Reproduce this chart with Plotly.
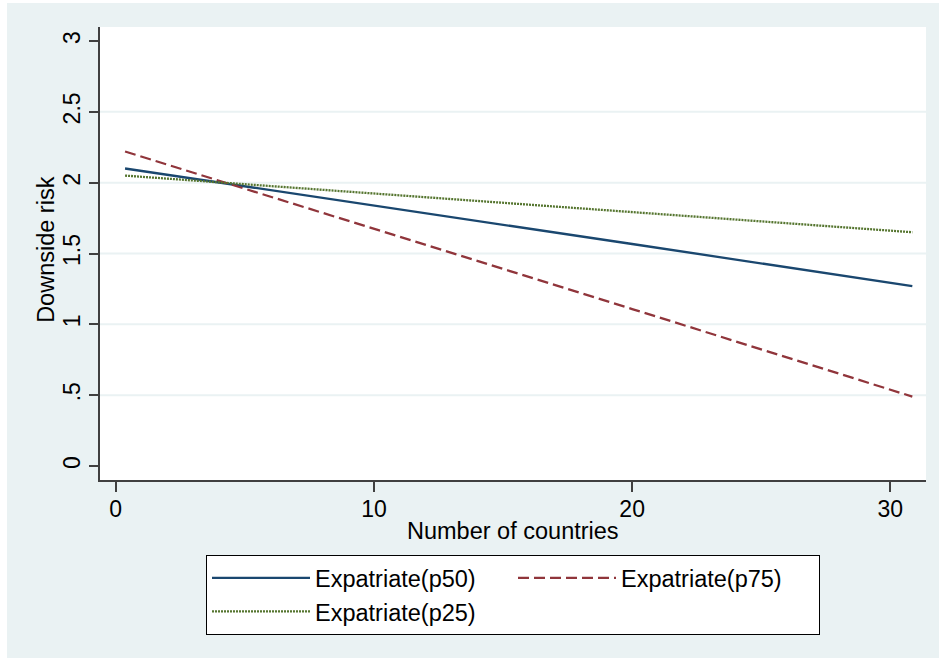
import plotly.graph_objects as go

# Data
x_countries = [0.36, 10, 20, 30.85]
p50_risk = [2.10, 1.84, 1.567, 1.27]
p75_risk = [2.22, 1.675, 1.108, 0.49]
p25_risk = [2.05, 1.924, 1.793, 1.65]

series_names = ["Expatriate(p50)", "Expatriate(p75)", "Expatriate(p25)"]
series_values = [p50_risk, p75_risk, p25_risk]
series_colors = ["#1A476F", "#90353B", "#55752F"]
series_dash = ["solid", "11px,5px", "2px,1px"]

y_tick_vals = [0, 0.5, 1, 1.5, 2, 2.5, 3]
y_tick_text = ["0", ".5", "1", "1.5", "2", "2.5", "3"]
x_tick_vals = [0, 10, 20, 30]
grid_vals = [0.5, 1, 1.5, 2, 2.5]

x_title = "Number of countries"
y_title = "Downside risk"

FONT = "Liberation Sans, Arial, sans-serif"
BG = "#EAF2F3"

fig = go.Figure()
for name, vals, col, dash in zip(series_names, series_values, series_colors, series_dash):
    fig.add_trace(go.Scatter(
        x=x_countries, y=vals, mode="lines", name=name,
        line=dict(color=col, width=2.3, dash=dash),
    ))

shapes = []
for g in grid_vals:
    shapes.append(dict(type="line", xref="paper", x0=0, x1=1, yref="y", y0=g, y1=g,
                       line=dict(color=BG, width=2), layer="below"))
# thin white strip of the original image border (left and top)
shapes.append(dict(type="rect", xref="paper", yref="paper", x0=-0.2, x1=-0.1126,
                   y0=-0.5, y1=1.2, fillcolor="white", line=dict(width=0), layer="below"))
shapes.append(dict(type="rect", xref="paper", yref="paper", x0=-0.2, x1=1.1,
                   y0=1.053, y1=1.2, fillcolor="white", line=dict(width=0), layer="below"))

annotations = [
    dict(text=x_title, xref="paper", yref="paper", x=0.5, y=-0.1126,
         xanchor="center", yanchor="middle", showarrow=False,
         font=dict(family=FONT, size=23.5, color="black")),
    dict(text=y_title, xref="paper", yref="paper", x=-0.0655, y=0.51,
         xanchor="center", yanchor="middle", showarrow=False, textangle=-90,
         font=dict(family=FONT, size=23.5, color="black")),
]

fig.update_layout(
    width=939, height=658,
    margin=dict(l=100, r=13, t=27, b=178),
    paper_bgcolor=BG, plot_bgcolor="white",
    font=dict(family=FONT, size=23, color="black"),
    shapes=shapes,
    annotations=annotations,
    showlegend=True,
    legend=dict(
        orientation="h", x=0.5, xanchor="center", y=-0.1656, yanchor="top",
        bgcolor="white", bordercolor="black", borderwidth=1,
        font=dict(family=FONT, size=23.5, color="black"),
        entrywidth=193, itemwidth=98,
    ),
    xaxis=dict(
        range=[-0.61, 31.38], tickvals=x_tick_vals, ticktext=[str(v) for v in x_tick_vals],
        showgrid=False, zeroline=False, showline=True, linecolor="#404040", linewidth=1.5,
        ticks="outside", ticklen=10, tickcolor="#404040", tickwidth=1.5,
        tickfont=dict(size=23), ticklabelstandoff=-2,
    ),
    yaxis=dict(
        range=[-0.099, 3.099], tickvals=y_tick_vals, ticktext=y_tick_text, tickangle=-90,
        showgrid=False, zeroline=False, showline=True, linecolor="#404040", linewidth=1.5,
        ticks="outside", ticklen=9, tickcolor="#404040", tickwidth=1.5,
        tickfont=dict(size=23),
    ),
)

fig.write_html("out.html", config={"displayModeBar": False},
               post_script="document.body.style.margin='0px';")
